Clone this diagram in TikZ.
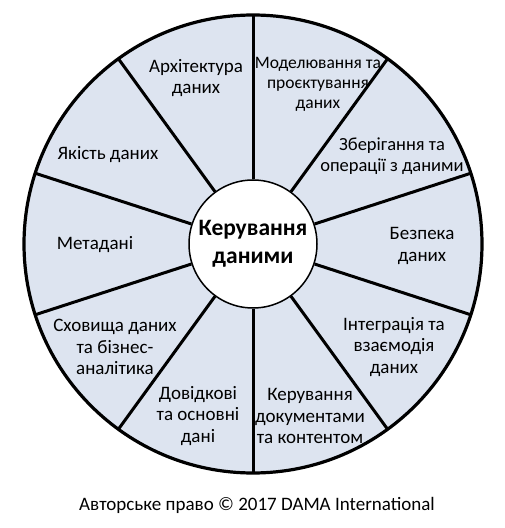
\documentclass[tikz,border=0pt]{standalone}
\usepackage{fontspec}
\setmainfont{Carlito}
\usetikzlibrary{calc}
\definecolor{wheelfill}{RGB}{221,228,240}

\begin{document}
\begin{tikzpicture}
[x=1pt, y=1pt, line width=3.2pt,
area/.style={align=center, inner sep=0pt, font=\fontsize{19}{21.5}\selectfont},
small area/.style={area, font=\fontsize{17.5}{20}\selectfont},
hub/.style={circle, draw, fill=white, line width=1.5pt, minimum size=128pt, inner sep=0pt, align=center, font=\fontsize{23.5}{28}\selectfont\bfseries},
divider/.style={line width=3pt}
]

\useasboundingbox (0,0) rectangle (504,528);

% wheel
\coordinate (c) at (253,284);
\draw[fill=wheelfill] (c) circle (229);
\node[hub] (hub) at (c) {Керування\\даними};

\foreach \a in {90,54,18,-18,-54,-90,-126,-162,162,126} {
  \draw[divider] (hub.\a) -- ($(c)+(\a:229)$);
}

% knowledge areas
\node[area] (arch)  at (196,450) {Архітектура\\даних};
\node[small area] (model) at (318,444) {Моделювання та\\проєктування\\даних};
\node[area, font=\fontsize{18.5}{21.5}\selectfont] (store) at (392,372) {Зберігання та\\операції з даними};
\node[area] (secur) at (422,282) {Безпека\\даних};
\node[area] (integ) at (394,181) {Інтеграція та\\взаємодія\\даних};
\node[area] (docs)  at (310,112) {Керування\\документами\\та контентом};
\node[area] (ref)   at (198,112) {Довідкові\\та основні\\дані};
\node[area] (dwh)   at (115,181) {Сховища даних\\та бізнес-\\аналітика};
\node[area] (meta)  at (95,283)  {Метадані};
\node[area] (qual)  at (108,373) {Якість даних};

\node[area] (copy) at (257,23) {Авторське право © 2017 DAMA International};

\end{tikzpicture}
\end{document}
